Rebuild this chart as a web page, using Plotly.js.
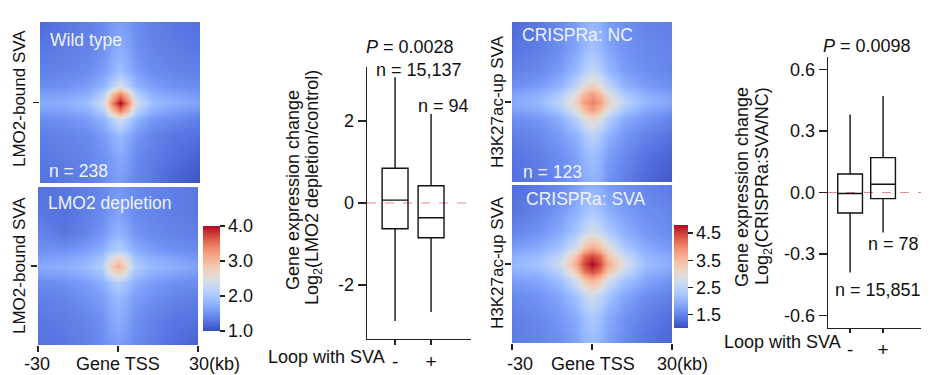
<!DOCTYPE html>
<html><head><meta charset="utf-8">
<script src="https://cdn.plot.ly/plotly-3.0.1.min.js"></script>
<style>html,body{margin:0;padding:0;background:#fff;}#chart{width:936px;height:375px;}</style>
</head><body><div id="chart"></div>
<script>
// ---------- data ----------
const gridPos = [-30, -20, -12, -6, -3, 0, 3, 6, 12, 20, 30];

const wildType = [
  [1.20,1.30,1.35,1.45,1.55,1.60,1.55,1.45,1.35,1.30,1.25],
  [1.30,1.35,1.40,1.50,1.65,1.75,1.65,1.50,1.40,1.35,1.30],
  [1.35,1.40,1.45,1.60,1.75,1.90,1.75,1.60,1.45,1.40,1.35],
  [1.45,1.50,1.60,1.80,2.10,2.40,2.10,1.80,1.60,1.50,1.45],
  [1.60,1.65,1.75,2.10,2.90,3.40,2.90,2.10,1.75,1.65,1.55],
  [1.70,1.75,1.90,2.40,3.40,4.00,3.40,2.40,1.90,1.75,1.65],
  [1.60,1.65,1.75,2.10,2.90,3.40,2.90,2.10,1.75,1.60,1.50],
  [1.45,1.50,1.60,1.80,2.10,2.40,2.10,1.80,1.55,1.45,1.35],
  [1.35,1.40,1.45,1.60,1.75,1.85,1.70,1.55,1.40,1.30,1.25],
  [1.30,1.35,1.40,1.50,1.60,1.70,1.60,1.45,1.35,1.25,1.15],
  [1.25,1.30,1.35,1.45,1.55,1.60,1.50,1.40,1.30,1.15,1.05]
];
const lmo2Depletion = [
  [1.25,1.30,1.35,1.40,1.50,1.55,1.50,1.45,1.40,1.35,1.30],
  [1.30,1.25,1.35,1.45,1.55,1.65,1.55,1.45,1.40,1.35,1.30],
  [1.40,1.30,1.40,1.55,1.70,1.80,1.70,1.55,1.45,1.40,1.35],
  [1.50,1.50,1.60,1.75,1.95,2.10,1.95,1.75,1.60,1.50,1.45],
  [1.60,1.65,1.75,1.95,2.40,2.70,2.40,1.95,1.75,1.65,1.55],
  [1.70,1.75,1.85,2.10,2.70,3.05,2.70,2.10,1.85,1.75,1.65],
  [1.60,1.65,1.75,1.95,2.40,2.70,2.40,1.95,1.75,1.65,1.55],
  [1.45,1.50,1.60,1.75,1.95,2.10,1.95,1.75,1.60,1.50,1.45],
  [1.35,1.40,1.50,1.60,1.75,1.85,1.75,1.60,1.50,1.40,1.35],
  [1.30,1.35,1.40,1.50,1.65,1.75,1.65,1.50,1.40,1.30,1.25],
  [1.25,1.30,1.35,1.45,1.55,1.60,1.55,1.45,1.35,1.25,1.15]
];
const crisprNC = [
  [1.25,1.40,1.55,1.75,1.95,2.05,1.95,1.75,1.60,1.50,1.45],
  [1.35,1.45,1.60,1.85,2.05,2.20,2.05,1.85,1.65,1.55,1.50],
  [1.45,1.55,1.75,2.05,2.35,2.55,2.35,2.05,1.75,1.60,1.50],
  [1.60,1.75,2.00,2.50,2.95,3.20,2.95,2.50,2.00,1.75,1.60],
  [1.80,1.95,2.30,2.95,3.50,3.80,3.50,2.95,2.30,1.95,1.75],
  [1.90,2.05,2.50,3.20,3.80,4.05,3.80,3.20,2.50,2.05,1.85],
  [1.80,1.90,2.25,2.90,3.45,3.80,3.45,2.90,2.25,1.85,1.70],
  [1.60,1.70,1.95,2.45,2.90,3.15,2.90,2.40,1.90,1.70,1.50],
  [1.45,1.55,1.75,2.00,2.30,2.50,2.30,2.00,1.70,1.50,1.35],
  [1.35,1.45,1.60,1.80,2.00,2.15,2.00,1.75,1.55,1.35,1.20],
  [1.30,1.40,1.55,1.70,1.90,2.00,1.90,1.65,1.45,1.25,1.10]
];
const crisprSVA = [
  [1.30,1.40,1.55,1.75,1.90,2.00,1.90,1.75,1.60,1.50,1.40],
  [1.35,1.50,1.70,1.95,2.15,2.30,2.15,1.95,1.75,1.60,1.50],
  [1.50,1.65,1.90,2.25,2.55,2.75,2.60,2.30,1.95,1.70,1.55],
  [1.75,1.90,2.20,2.80,3.40,3.70,3.45,3.00,2.30,1.90,1.70],
  [1.95,2.10,2.50,3.40,4.20,4.45,4.20,3.40,2.65,2.05,1.85],
  [2.05,2.20,2.65,3.70,4.45,4.80,4.45,3.70,2.85,2.15,1.90],
  [1.95,2.05,2.45,3.30,4.10,4.40,4.10,3.35,2.60,2.00,1.80],
  [1.75,1.85,2.15,2.75,3.30,3.60,3.30,2.80,2.20,1.85,1.65],
  [1.55,1.65,1.85,2.20,2.50,2.70,2.50,2.20,1.85,1.60,1.45],
  [1.45,1.55,1.70,1.90,2.15,2.30,2.15,1.90,1.65,1.45,1.30],
  [1.40,1.50,1.60,1.80,2.00,2.10,2.00,1.80,1.55,1.35,1.20]
];

const loopCats = [0, 1];
const loopLabels = ['-', '+'];
// LMO2 depletion boxplot stats
const lmoQ1 = [-0.63, -0.85];
const lmoMedian = [0.07, -0.36];
const lmoQ3 = [0.85, 0.42];
const lmoLow = [-2.88, -2.66];
const lmoHigh = [3.07, 2.17];
const lmoN = ['n = 15,137', 'n = 94'];
// CRISPRa boxplot stats
const criQ1 = [-0.10, -0.03];
const criMedian = [-0.005, 0.04];
const criQ3 = [0.09, 0.17];
const criLow = [-0.39, -0.195];
const criHigh = [0.38, 0.47];
const criN = ['n = 15,851', 'n = 78'];

const cbar1Ticks = [1, 2, 3, 4];
const cbar1Text = ['1.0', '2.0', '3.0', '4.0'];
const cbar2Ticks = [1.5, 2.5, 3.5, 4.5];
const cbar2Text = ['1.5', '2.5', '3.5', '4.5'];
const box1Ticks = [-2, 0, 2];
const box1Text = ['-2', '0', '2'];
const box2Ticks = [-0.6, -0.3, 0, 0.3, 0.6];
const box2Text = ['-0.6', '-0.3', '0.0', '0.3', '0.6'];
const tssTicks = [-30, 0, 30];

// ---------- layout helpers ----------
const W = 936, H = 375;
const px = v => v / W;
const py = v => 1 - v / H;
const FONT = 'Liberation Sans, Arial, sans-serif';
const coolwarm = [
  [0.0, 'rgb(59,76,192)'], [0.0625, 'rgb(77,104,215)'], [0.125, 'rgb(98,130,234)'],
  [0.1875, 'rgb(119,153,246)'], [0.25, 'rgb(141,176,254)'], [0.3125, 'rgb(163,194,255)'],
  [0.375, 'rgb(184,208,249)'], [0.4375, 'rgb(204,217,238)'], [0.5, 'rgb(221,221,221)'],
  [0.5625, 'rgb(236,211,197)'], [0.625, 'rgb(245,196,173)'], [0.6875, 'rgb(246,176,148)'],
  [0.75, 'rgb(244,154,123)'], [0.8125, 'rgb(234,125,98)'], [0.875, 'rgb(218,91,71)'],
  [0.9375, 'rgb(199,52,54)'], [1.0, 'rgb(180,4,38)']
];

function hm(z, xa, ya, ca) {
  return {type: 'heatmap', x: gridPos, y: gridPos, z: z, zsmooth: 'best',
    xaxis: xa, yaxis: ya, coloraxis: ca, hoverinfo: 'skip'};
}
function bx(q1, med, q3, lo, hi, xa, ya, w) {
  return {type: 'box', x: loopCats, q1: q1, median: med, q3: q3, lowerfence: lo, upperfence: hi,
    xaxis: xa, yaxis: ya, width: w, whiskerwidth: 0, boxpoints: false,
    line: {color: '#111', width: 1.4}, fillcolor: 'rgba(255,255,255,0)', hoverinfo: 'skip', showlegend: false};
}

const data = [
  hm(wildType, 'x', 'y', 'coloraxis'),
  hm(lmo2Depletion, 'x2', 'y2', 'coloraxis'),
  bx(lmoQ1, lmoMedian, lmoQ3, lmoLow, lmoHigh, 'x3', 'y3', 0.72),
  hm(crisprNC, 'x4', 'y4', 'coloraxis2'),
  hm(crisprSVA, 'x5', 'y5', 'coloraxis2'),
  bx(criQ1, criMedian, criQ3, criLow, criHigh, 'x6', 'y6', 0.75)
];

function hx(d, anchor, showTicks) {
  const a = {domain: d, anchor: anchor, range: [-30, 30], showgrid: false, zeroline: false, showline: false,
    showticklabels: false, ticklen: 6, tickwidth: 1.3, tickcolor: '#222', fixedrange: true};
  if (showTicks) { a.tickvals = tssTicks; a.ticks = 'outside'; } else { a.ticks = ''; a.showticklabels = false; }
  return a;
}
function hy(d, anchor) {
  return {domain: d, anchor: anchor, range: [30, -30], showgrid: false, zeroline: false, showline: false,
    tickvals: [0], showticklabels: false, ticks: 'outside', ticklen: 6, tickwidth: 1.3, tickcolor: '#222', fixedrange: true};
}
function bxX(d, anchor, range, tl) {
  return {domain: d, anchor: anchor, range: range, showgrid: false, zeroline: false,
    showline: true, linecolor: '#222', linewidth: 1.3,
    tickvals: loopCats, ticktext: loopLabels, ticks: 'outside', ticklen: tl, tickwidth: 1.3, tickcolor: '#222',
    tickfont: {size: 19, color: '#111', family: FONT}, fixedrange: true};
}
function bxY(d, anchor, range, tv, tt) {
  return {domain: d, anchor: anchor, range: range, showgrid: false, zeroline: false,
    showline: true, linecolor: '#222', linewidth: 1.3,
    tickvals: tv, ticktext: tt, ticks: 'outside', ticklen: 8, tickwidth: 1.3, tickcolor: '#222',
    tickfont: {size: 18, color: '#111', family: FONT}, fixedrange: true};
}
function cb(x, yb, len, thick, tv, tt) {
  return {x: px(x), xanchor: 'left', y: py(yb), yanchor: 'bottom', len: len / H, lenmode: 'fraction',
    thickness: thick, thicknessmode: 'pixels', xpad: 0, ypad: 0, outlinewidth: 0,
    ticks: 'outside', ticklen: 5, tickwidth: 1.3, tickcolor: '#222',
    tickvals: tv, ticktext: tt, tickfont: {size: 18, color: '#111', family: FONT}};
}

function ann(text, x, y, opts) {
  return Object.assign({text: text, x: px(x), y: py(y), xref: 'paper', yref: 'paper',
    showarrow: false, xanchor: 'center', yanchor: 'middle',
    font: {size: 18, color: '#111', family: FONT}}, opts || {});
}
const inner = {size: 17.5, color: '#eef2ff', family: FONT};
const side = {size: 17, color: '#111', family: FONT};

const annotations = [
  ann('Wild type', 48, 40, {xanchor: 'left', font: inner}),
  ann('n = 238', 47, 171, {xanchor: 'left', font: inner}),
  ann('LMO2 depletion', 46, 203, {xanchor: 'left', font: inner}),
  ann('CRISPRa: NC', 520, 35, {xanchor: 'left', font: inner}),
  ann('n = 123', 521, 172, {xanchor: 'left', font: inner}),
  ann('CRISPRa: SVA', 524, 199, {xanchor: 'left', font: inner}),
  ann('LMO2-bound SVA', 19, 99, {textangle: -90, font: side}),
  ann('LMO2-bound SVA', 19, 266, {textangle: -90, font: side}),
  ann('H3K27ac-up SVA', 497, 102, {textangle: -90, font: side}),
  ann('H3K27ac-up SVA', 497, 263, {textangle: -90, font: side}),
  ann('-30', 37, 364),
  ann('Gene TSS', 118, 364),
  ann('30(kb)', 187, 364, {xanchor: 'left'}),
  ann('-30', 520, 364),
  ann('Gene TSS', 593, 364),
  ann('30(kb)', 655, 364, {xanchor: 'left'}),
  ann('<i>P</i> = 0.0028', 410, 47),
  ann(lmoN[0], 419, 70),
  ann(lmoN[1], 443, 106),
  ann('Gene expression change', 293, 190, {textangle: -90}),
  ann('Log<sub>2</sub>(LMO2 depletion/control)', 313, 188, {textangle: -90}),
  ann('Loop with SVA', 387, 357, {xanchor: 'right'}),
  ann('<i>P</i> = 0.0098', 867, 46),
  ann(criN[1], 893, 244),
  ann(criN[0], 878, 290),
  ann('Gene expression change', 742, 187, {textangle: -90}),
  ann('Log<sub>2</sub>(CRISPRa:SVA/NC)', 763, 186, {textangle: -90}),
  ann('Loop with SVA', 843, 342, {xanchor: 'right'})
];

const layout = {
  width: W, height: H, margin: {l: 0, r: 0, t: 0, b: 0},
  paper_bgcolor: '#fff', plot_bgcolor: 'rgba(0,0,0,0)', showlegend: false,
  font: {family: FONT, size: 18, color: '#111'},
  xaxis: hx([px(40), px(200)], 'y', false),
  yaxis: hy([py(183), py(22)], 'x'),
  xaxis2: hx([px(38), px(198)], 'y2', true),
  yaxis2: hy([py(345), py(187)], 'x2'),
  xaxis3: bxX([px(367), px(471)], 'y3', [-0.78, 2.11], 5),
  yaxis3: bxY([py(339), py(67)], 'x3', [-3.32, 3.32], box1Ticks, box1Text),
  xaxis4: hx([px(512), px(672)], 'y4', false),
  yaxis4: hy([py(182), py(22)], 'x4'),
  xaxis5: hx([px(512), px(672)], 'y5', true),
  yaxis5: hy([py(343), py(185)], 'x5'),
  xaxis6: bxX([px(828), px(921)], 'y6', [-0.67, 2.15], 4),
  yaxis6: bxY([py(328), py(57)], 'x6', [-0.66, 0.66], box2Ticks, box2Text),
  coloraxis: {colorscale: coolwarm, cmin: 1.0, cmax: 4.0, colorbar: cb(203, 331, 105, 17, cbar1Ticks, cbar1Text)},
  coloraxis2: {colorscale: coolwarm, cmin: 1.0, cmax: 4.8, colorbar: cb(674, 328, 103, 14, cbar2Ticks, cbar2Text)},
  shapes: [
    {type: 'line', xref: 'x3 domain', yref: 'y3', x0: 0, x1: 1, y0: 0, y1: 0,
      line: {color: 'rgba(232,120,120,0.85)', width: 1.2, dash: 'dash'}, layer: 'below'},
    {type: 'line', xref: 'x6 domain', yref: 'y6', x0: 0, x1: 1, y0: 0, y1: 0,
      line: {color: 'rgba(232,120,120,0.85)', width: 1.2, dash: 'dash'}, layer: 'below'}
  ],
  annotations: annotations
};

Plotly.newPlot('chart', data, layout, {displayModeBar: false, staticPlot: true});
</script>
</body></html>
